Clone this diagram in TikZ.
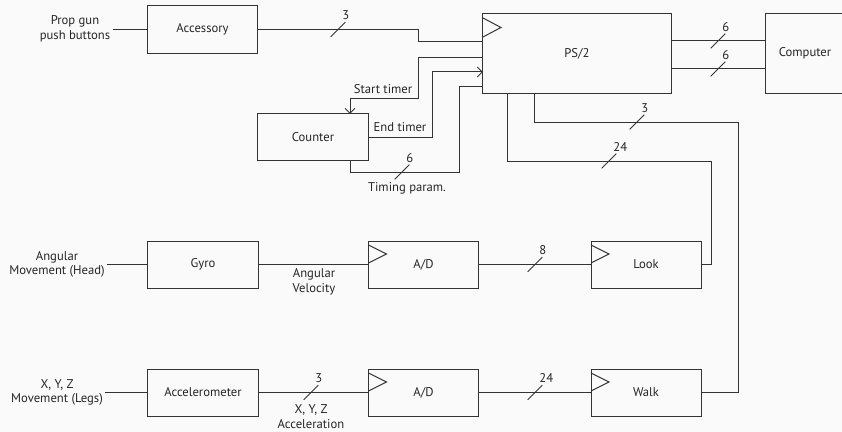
\documentclass[tikz,border=0pt]{standalone}
\usepackage{fontspec}
\setmainfont{PT Sans}
\usetikzlibrary{positioning,calc,arrows.meta}
\tikzset{
  wire/.style = {line width=0.7pt, draw=black!80},
  blk/.style  = {draw=black!80, line width=0.7pt, minimum width=2.75cm,
                 minimum height=1.175cm, inner sep=2pt, outer sep=0pt,
                 font=\fontsize{9}{10.5}\selectfont, text=black!85},
  lbl/.style  = {font=\fontsize{9}{10.5}\selectfont, align=center,
                 inner sep=1.5pt, text=black!85},
  bus/.style  = {inner sep=0pt, minimum size=10pt,
                 append after command={(\tikzlastnode.south west)
                   edge[wire] (\tikzlastnode.north east)},
                 label={[lbl]75:#1}},
  sarr/.style = {-{Straight Barb[length=3.5pt,width=7pt]}},
}
\begin{document}
\begin{tikzpicture}[x=0.025cm, y=-0.025cm]
  \useasboundingbox[fill=black!2] (0,0) rectangle (842,432);
  \clip (0,0) rectangle (842,432);
  % blocks
  \node[blk] (acc) at (202.5,29.5) {Accessory};
  \node[blk, minimum width=4.7cm, minimum height=1.975cm] (ps2) at (577,53.5) {PS/2};
  \node[blk, minimum width=2cm, minimum height=1.975cm] (comp) at (805,53.5) {Computer};
  \node[blk, minimum height=1.15cm] (cnt) at (313,137) {Counter};
  \node[blk] (gyro) at (203,264.5) {Gyro};
  \node[blk] (ad1) at (423.5,264.5) {A/D};
  \node[blk] (look) at (646,264.5) {Look};
  \node[blk] (accel) at (203,392.5) {Accelerometer};
  \node[blk] (ad2) at (423.5,392.5) {A/D};
  \node[blk] (walk) at (646,392.5) {Walk};
  % clock marks
  \draw[wire] ($(ps2.north west)+(0,4)$) -- ++(18,9.5) -- ++(-18,9.5);
  \draw[wire] ($(ad1.north west)+(0,4)$) -- ++(18,9) -- ++(-18,9);
  \draw[wire] ($(look.north west)+(0,4)$) -- ++(18,9) -- ++(-18,9);
  \draw[wire] ($(ad2.north west)+(0,4)$) -- ++(18,9) -- ++(-18,9);
  \draw[wire] ($(walk.north west)+(0,4)$) -- ++(18,9) -- ++(-18,9);
  % inputs
  \node[lbl] (gun) at (75,29) {Prop gun\\push buttons};
  \node[lbl] (head) at (57,264.5) {Angular\\Movement (Head)};
  \node[lbl] (legs) at (57,392.5) {X, Y, Z\\Movement (Legs)};
  \draw[wire] (gun.east) -- (gun.east -| acc.west);
  \draw[wire] (head.east) -- (gyro.west);
  \draw[wire] (legs.east) -- (accel.west);
  % PS/2 pins
  \coordinate (in1) at ($(ps2.north west)+(0,28)$);
  \coordinate (in2) at ($(ps2.north west)+(0,44)$);
  \coordinate (in3) at ($(ps2.north west)+(0,58)$);
  \coordinate (in4) at ($(ps2.north west)+(0,73)$);
  \coordinate (out1) at ($(ps2.north east)+(0,27)$);
  \coordinate (out2) at ($(ps2.north east)+(0,55)$);
  % connections
  \draw[wire] (acc.east) -- ++(161,0) |- (in1);
  \draw[wire,sarr] (in2) -- ++(-64,0) -- ++(0,41) -| ($(cnt.north)+(37,0)$);
  \draw[wire,sarr] (cnt.east) -- ++(64,0) |- (in3);
  \draw[wire] ($(cnt.south)+(37,0)$) -- ++(0,12) -- ++(109,0) |- (in4);
  \draw[wire] (out1) -- (comp.west |- out1);
  \draw[wire] (out2) -- (comp.west |- out2);
  \draw[wire] ($(ps2.south west)+(52,0)$) |- ++(204,29) |- (walk.east);
  \draw[wire] ($(ps2.south west)+(25,0)$) |- ++(204,68) |- (look.east);
  \draw[wire] (gyro.east) -- (ad1.west);
  \draw[wire] (ad1.east) -- (look.west);
  \draw[wire] (accel.east) -- (ad2.west);
  \draw[wire] (ad2.east) -- (walk.west);
  % bus widths
  \node[bus=3] (w1) at (338,29.5) {};
  \node[bus=6] (w2) at (718,41) {};
  \node[bus=6] (w3) at (718,69) {};
  \node[bus=6] (w4) at (402,172) {};
  \node[bus=3] (w5) at (637,122) {};
  \node[bus=24] (w6) at (609,161) {};
  \node[bus=8] (w7) at (535,264.5) {};
  \node[bus=3] (w8) at (311,392.5) {};
  \node[bus=24] (w9) at (535,392.5) {};
  % signal names
  \node[lbl] (st) at (383,89) {Start timer};
  \node[lbl] (et) at (400,127) {End timer};
  \node[lbl] (tp) at (407,188) {Timing param.};
  \node[lbl] (av) at (314,282) {Angular\\Velocity};
  \node[lbl] (xa) at (311,417) {X, Y, Z\\Acceleration};
\end{tikzpicture}
\end{document}
